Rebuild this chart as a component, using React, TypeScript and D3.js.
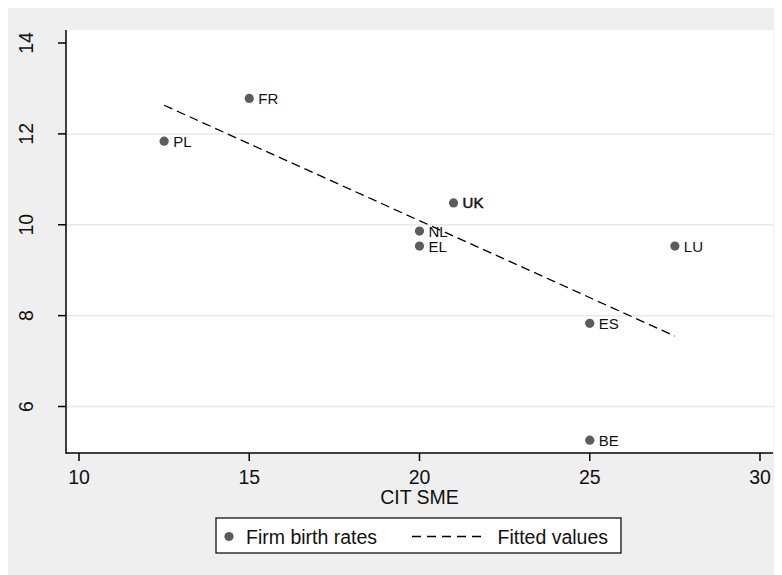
import React from "react";
import * as d3 from "d3";

const countries = ["FR", "PL", "UK", "NL", "EL", "LU", "ES", "BE"];
const citSme = [15, 12.5, 21, 20, 20, 27.5, 25, 25];
const birthRates = [12.78, 11.84, 10.48, 9.86, 9.53, 9.53, 7.83, 5.26];
const fittedX = [12.5, 27.5];
const fittedY = [12.63, 7.55];
const xTicks = [10, 15, 20, 25, 30];
const yTicks = [6, 8, 10, 12, 14];
const yGrid = [6, 8, 10, 12];

const W = 774;
const H = 567;
const OX = 8;
const OY = 8;
const left = 66 - OX;
const right = 773 - OX;
const top = 30 - OY;
const bottom = 453 - OY;

export default function App() {
  const x = d3.scaleLinear().domain([9.618, 30.382]).range([left, right]);
  const y = d3.scaleLinear().domain([4.977, 14.286]).range([bottom, top]);
  const line = d3
    .line<number>()
    .x((_, i) => x(fittedX[i]))
    .y((d) => y(d));
  const font = "Arial, 'Liberation Sans', Helvetica, sans-serif";
  const ptColor = "#5c5c5c";
  const fs = 19.5;
  return (
    <svg width={W} height={H} style={{ display: "block" }} fontFamily={font}>
      <rect x={0} y={0} width={W} height={H} fill="#efefef" />
      <rect x={left} y={top} width={right - left} height={bottom - top} fill="#ffffff" />
      {yGrid.map((t) => (
        <line key={t} x1={left} x2={right} y1={y(t)} y2={y(t)} stroke="#e8e8e8" strokeWidth={1.5} />
      ))}
      <path d={line(fittedY) || ""} fill="none" stroke="#000" strokeWidth={1.3} strokeDasharray="9,5" />
      {countries.map((c, i) => (
        <g key={c}>
          <circle cx={x(citSme[i])} cy={y(birthRates[i])} r={4.6} fill={ptColor} />
          <text
            x={x(citSme[i]) + 9}
            y={y(birthRates[i]) + 5.5}
            fontSize={15}
            fill="#111"
            stroke={c === "UK" ? "#111" : "none"}
            strokeWidth={c === "UK" ? 0.5 : 0}
          >
            {c}
          </text>
        </g>
      ))}
      <line x1={left} x2={left} y1={top} y2={bottom + 0.75} stroke="#000" strokeWidth={1.5} />
      <line x1={left} x2={right} y1={bottom} y2={bottom} stroke="#000" strokeWidth={1.5} />
      {yTicks.map((t) => (
        <g key={t}>
          <line x1={left - 8} x2={left} y1={y(t)} y2={y(t)} stroke="#000" strokeWidth={1.5} />
          <text
            transform={`translate(${33 - OX},${y(t)}) rotate(-90)`}
            textAnchor="middle"
            fontSize={fs}
            fill="#111"
          >
            {t}
          </text>
        </g>
      ))}
      {xTicks.map((t) => (
        <g key={t}>
          <line x1={x(t)} x2={x(t)} y1={bottom} y2={bottom + 8} stroke="#000" strokeWidth={1.5} />
          <text x={x(t)} y={483.5 - OY} textAnchor="middle" fontSize={fs} fill="#111">
            {t}
          </text>
        </g>
      ))}
      <text x={(left + right) / 2} y={504 - OY} textAnchor="middle" fontSize={fs} fill="#111">
        CIT SME
      </text>
      <rect x={216 - OX} y={518 - OY} width={405} height={35} fill="#fff" stroke="#000" strokeWidth={1.2} />
      <circle cx={229 - OX} cy={536.5 - OY} r={4.6} fill={ptColor} />
      <text x={246 - OX} y={543.5 - OY} fontSize={fs} fill="#111">
        Firm birth rates
      </text>
      <line x1={412 - OX} x2={486 - OX} y1={536.5 - OY} y2={536.5 - OY} stroke="#000" strokeWidth={1.3} strokeDasharray="9,6" />
      <text x={497.5 - OX} y={543.5 - OY} fontSize={fs} fill="#111">
        Fitted values
      </text>
    </svg>
  );
}
